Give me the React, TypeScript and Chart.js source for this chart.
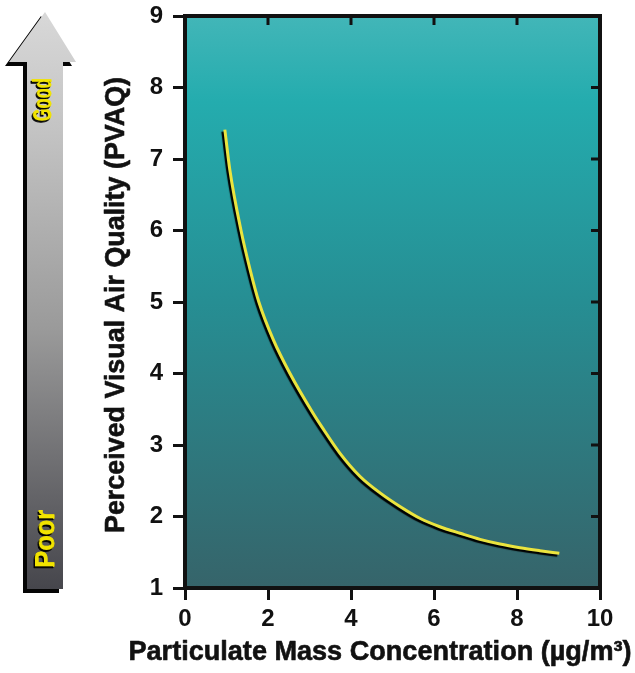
import React, { useEffect, useRef } from 'react';
import { Chart, registerables } from 'chart.js';

Chart.register(...registerables);

// ---- data ----
const concentration = [0.96, 1.08, 1.35, 1.57, 1.78, 2.13, 2.53, 3.09, 3.29, 3.74, 4.22, 4.7, 5.18, 5.66, 6.14, 6.63, 7.11, 7.59, 8.07, 8.55, 9.02];
const pvaq = [7.41, 6.85, 6.0, 5.45, 5.0, 4.47, 4.0, 3.44, 3.26, 2.88, 2.56, 2.33, 2.14, 1.975, 1.857, 1.765, 1.68, 1.615, 1.564, 1.522, 1.485];
const xTicks = [0, 2, 4, 6, 8, 10];
const yTicks = [1, 2, 3, 4, 5, 6, 7, 8, 9];
const xTitle = 'Particulate Mass Concentration (µg/m³)';
const yTitle = 'Perceived Visual Air Quality (PVAQ)';
const goodLabel = 'Good';
const poorLabel = 'Poor';

const FONT = '"Liberation Sans", Arial, sans-serif';
const INK = '#111111';

function fitText(
  ctx: CanvasRenderingContext2D,
  text: string,
  cx: number,
  cy: number,
  size: number,
  width: number,
  rotate: boolean,
  color: string,
  shadow?: boolean
) {
  ctx.save();
  ctx.font = `bold ${size}px ${FONT}`;
  const natural = ctx.measureText(text).width;
  const sx = width / natural;
  ctx.translate(cx, cy);
  if (rotate) ctx.rotate(-Math.PI / 2);
  ctx.scale(sx, 1);
  ctx.textAlign = 'center';
  ctx.textBaseline = 'alphabetic';
  if (shadow) {
    ctx.shadowColor = 'rgba(0,0,0,0.95)';
    ctx.shadowOffsetX = -1.5;
    ctx.shadowOffsetY = 1.5;
    ctx.shadowBlur = 0;
  }
  ctx.fillStyle = color;
  ctx.strokeStyle = color;
  ctx.lineWidth = shadow ? 1 : 0.6;
  ctx.lineJoin = 'round';
  ctx.strokeText(text, 0, 0);
  ctx.fillText(text, 0, 0);
  ctx.restore();
}

const backgroundPlugin = {
  id: 'bg',
  beforeDatasetsDraw(chart: any) {
    const { ctx, chartArea: a } = chart;
    ctx.save();
    const g = ctx.createLinearGradient(0, a.top, 0, a.bottom);
    g.addColorStop(0, 'rgb(66,182,184)');
    g.addColorStop(0.15, 'rgb(36,172,174)');
    g.addColorStop(0.5, 'rgb(38,142,147)');
    g.addColorStop(1, 'rgb(54,100,106)');
    ctx.fillStyle = g;
    ctx.fillRect(a.left, a.top, a.right - a.left, a.bottom - a.top);
    ctx.restore();
  },
};

const shadowPlugin = {
  id: 'lineShadow',
  beforeDatasetDraw(chart: any) {
    const ctx = chart.ctx;
    ctx.save();
    ctx.shadowColor = 'rgba(0,0,0,1)';
    ctx.shadowOffsetX = -2;
    ctx.shadowOffsetY = 2;
    ctx.shadowBlur = 1;
  },
  afterDatasetDraw(chart: any) {
    chart.ctx.restore();
  },
};

const decorPlugin = {
  id: 'decor',
  afterDraw(chart: any) {
    const { ctx, chartArea: a, scales } = chart;
    const xs = scales.x;
    const ys = scales.y;

    // frame
    ctx.save();
    ctx.strokeStyle = INK;
    ctx.lineWidth = 4;
    ctx.strokeRect(a.left, a.top, a.right - a.left, a.bottom - a.top);
    // inward ticks on top and right
    ctx.lineWidth = 3;
    ctx.beginPath();
    xTicks.slice(1, -1).forEach((v) => {
      const px = xs.getPixelForValue(v);
      ctx.moveTo(px, a.top);
      ctx.lineTo(px, a.top + 9);
    });
    yTicks.slice(1, -1).forEach((v) => {
      const py = ys.getPixelForValue(v);
      ctx.moveTo(a.right, py);
      ctx.lineTo(a.right - 9, py);
    });
    ctx.stroke();
    ctx.restore();

    // axis titles
    fitText(ctx, yTitle, 124, 305, 27, 456, true, INK);
    fitText(ctx, xTitle, 380, 660, 27, 503, false, INK);

    // quality arrow
    ctx.save();
    const arrow = (dx: number, dy: number) => {
      ctx.beginPath();
      ctx.moveTo(45 + dx, 12 + dy);
      ctx.lineTo(76 + dx, 62 + dy);
      ctx.lineTo(63 + dx, 62 + dy);
      ctx.lineTo(63 + dx, 589 + dy);
      ctx.lineTo(27 + dx, 589 + dy);
      ctx.lineTo(27 + dx, 62 + dy);
      ctx.lineTo(9 + dx, 62 + dy);
      ctx.closePath();
    };
    arrow(-4, 4);
    ctx.fillStyle = '#050505';
    ctx.fill();
    const g = ctx.createLinearGradient(0, 12, 0, 589);
    g.addColorStop(0, '#d8d8d8');
    g.addColorStop(0.2, '#c4c4c4');
    g.addColorStop(0.55, '#9a9a9a');
    g.addColorStop(1, '#46464c');
    arrow(0, 0);
    ctx.fillStyle = g;
    ctx.fill();
    ctx.restore();

    fitText(ctx, goodLabel, 51, 100, 25, 43, true, '#f2e400', true);
    fitText(ctx, poorLabel, 54, 539, 27, 58, true, '#f2e400', true);
  },
};

export default function App() {
  const ref = useRef<HTMLCanvasElement | null>(null);

  useEffect(() => {
    const canvas = ref.current;
    if (!canvas) return;
    const tickFont = { family: FONT, weight: 'bold' as const, size: 24 };
    const chart = new Chart(canvas, {
      type: 'scatter',
      data: {
        datasets: [
          {
            data: concentration.map((x, i) => ({ x, y: pvaq[i] })),
            showLine: true,
            borderColor: '#ebe43e',
            borderWidth: 3,
            pointRadius: 0,
            pointHoverRadius: 0,
            cubicInterpolationMode: 'monotone',
            fill: false,
          },
        ],
      },
      options: {
        responsive: false,
        animation: false,
        events: [],
        layout: { padding: { left: 0, right: 35, top: 16, bottom: 0 } },
        plugins: { legend: { display: false }, tooltip: { enabled: false } },
        scales: {
          x: {
            type: 'linear',
            min: 0,
            max: 10,
            afterBuildTicks: (s: any) => {
              s.ticks = xTicks.map((v) => ({ value: v }));
            },
            afterFit: (s: any) => {
              s.height = 85;
              s.paddingLeft = 0;
              s.paddingRight = 0;
            },
            grid: {
              drawOnChartArea: false,
              drawTicks: true,
              tickLength: 12,
              tickWidth: 3,
              tickColor: INK,
              color: INK,
            },
            border: { display: false },
            ticks: { font: tickFont, color: INK, padding: 5, maxRotation: 0, autoSkip: false },
          },
          y: {
            type: 'linear',
            min: 1,
            max: 9,
            afterBuildTicks: (s: any) => {
              s.ticks = yTicks.map((v) => ({ value: v }));
            },
            afterFit: (s: any) => {
              s.width = 185;
              s.paddingTop = 0;
              s.paddingBottom = 0;
            },
            grid: {
              drawOnChartArea: false,
              drawTicks: true,
              tickLength: 12,
              tickWidth: 3,
              tickColor: INK,
              color: INK,
            },
            border: { display: false },
            ticks: { font: tickFont, color: INK, padding: 10, autoSkip: false },
          },
        },
      },
      plugins: [backgroundPlugin, shadowPlugin, decorPlugin],
    });
    return () => chart.destroy();
  }, []);

  return (
    <div style={{ position: 'absolute', left: 0, top: 0, width: 635, height: 673, background: '#ffffff' }}>
      <canvas ref={ref} width={635} height={673} style={{ display: 'block' }} />
    </div>
  );
}
